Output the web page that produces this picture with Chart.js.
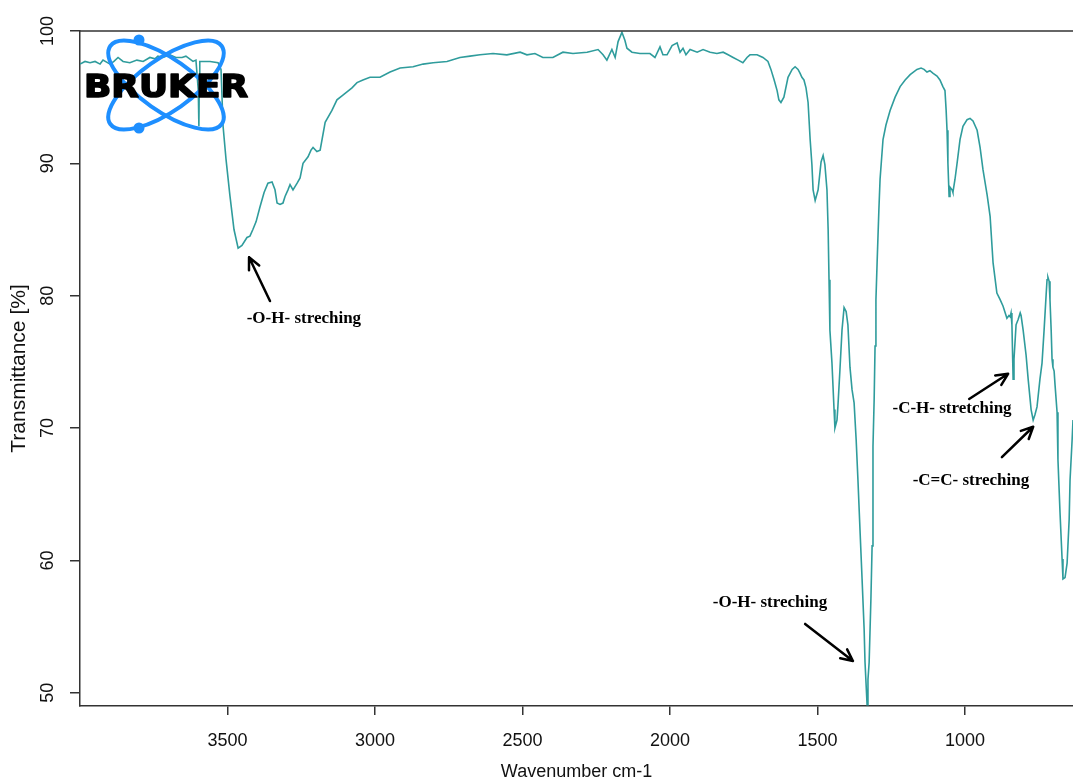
<!DOCTYPE html>
<html lang="en">
<head>
<meta charset="UTF-8">
<title>IR spectrum</title>
<script src="https://cdn.jsdelivr.net/npm/chart.js"></script>
<style>
  html, body { margin: 0; padding: 0; background: #fff; }
  #wrap { width: 1073px; height: 783px; }
</style>
</head>
<body>
<div id="wrap"><canvas id="spectrum"></canvas></div>
<script>
// spectrum (cm-1 / %T)
const wavenumbers = [
  4000, 3983, 3966, 3949, 3932, 3922, 3898, 3885, 3871, 3854, 3831, 3807, 3786, 3763, 3746, 3736,
  3719, 3695, 3675, 3654, 3641, 3617, 3607, 3599, 3597, 3596, 3594, 3559, 3532, 3522, 3515, 3505,
  3492, 3478, 3464, 3451, 3434, 3424, 3414, 3403, 3390, 3376, 3363, 3349, 3339, 3332, 3322, 3312,
  3305, 3295, 3288, 3278, 3264, 3254, 3244, 3227, 3217, 3210, 3197, 3186, 3169, 3146, 3129, 3112,
  3095, 3078, 3061, 3041, 3017, 2983, 2949, 2915, 2871, 2837, 2803, 2756, 2712, 2678, 2644, 2600,
  2553, 2508, 2485, 2458, 2431, 2397, 2363, 2329, 2281, 2244, 2227, 2214, 2197, 2186, 2176, 2163,
  2153, 2146, 2129, 2102, 2068, 2051, 2034, 2024, 2010, 1993, 1976, 1966, 1956, 1946, 1932, 1908,
  1888, 1864, 1841, 1820, 1803, 1786, 1769, 1753, 1739, 1729, 1705, 1685, 1668, 1658, 1647, 1637,
  1631, 1624, 1614, 1600, 1586, 1576, 1566, 1559, 1553, 1546, 1539, 1532, 1525, 1519, 1515, 1508,
  1498, 1488, 1481, 1475, 1468, 1464, 1461, 1458, 1451, 1444, 1441, 1434, 1431, 1424, 1417, 1410,
  1403, 1397, 1390, 1383, 1376, 1369, 1363, 1356, 1349, 1342, 1339, 1332, 1329, 1325, 1319, 1315,
  1312, 1308, 1305, 1302, 1298, 1292, 1288, 1278, 1268, 1254, 1237, 1220, 1203, 1186, 1163, 1149,
  1139, 1129, 1119, 1108, 1095, 1085, 1075, 1068, 1064, 1061, 1058, 1054, 1051, 1044, 1041, 1034,
  1027, 1017, 1007, 993, 983, 973, 959, 949, 939, 925, 915, 905, 892, 881, 871, 858,
  851, 847, 844, 841, 837, 834, 827, 820, 813, 810, 803, 793, 786, 776, 769, 763,
  756, 746, 739, 732, 725, 722, 719, 715, 712, 708, 705, 702, 698, 695, 688, 685,
  678, 671, 668, 661, 654, 647, 644, 637, 634
];
const transmittance = [
  97.5, 97.7, 97.6, 97.7, 97.5, 97.8, 97.5, 97.7, 98.0, 97.7, 97.6, 97.8, 97.7, 98.0, 97.9, 98.1,
  98.0, 98.2, 98.0, 98.0, 98.1, 97.7, 97.8, 95.5, 92.8, 95.2, 97.7, 97.7, 97.6, 97.1, 92.8, 90.3,
  87.6, 85.0, 83.6, 83.8, 84.4, 84.5, 85.0, 85.6, 86.7, 87.8, 88.5, 88.6, 88.0, 87.0, 86.9, 87.0,
  87.5, 88.0, 88.4, 88.0, 88.5, 88.9, 90.0, 90.5, 91.0, 91.2, 90.9, 91.0, 93.1, 94.0, 94.8, 95.1,
  95.4, 95.7, 96.1, 96.3, 96.5, 96.5, 96.9, 97.2, 97.3, 97.5, 97.6, 97.7, 98.0, 98.1, 98.2, 98.3,
  98.2, 98.4, 98.2, 98.3, 98.0, 98.0, 98.4, 98.3, 98.4, 98.6, 98.2, 97.8, 98.6, 98.0, 99.2, 99.9,
  99.3, 98.7, 98.4, 98.3, 98.3, 98.0, 98.8, 98.2, 98.2, 98.9, 99.1, 98.4, 98.7, 98.2, 98.6, 98.4,
  98.6, 98.4, 98.3, 98.4, 98.2, 98.0, 97.8, 97.6, 98.0, 98.2, 98.2, 98.0, 97.7, 97.1, 96.3, 95.5,
  94.8, 94.6, 95.0, 96.5, 97.1, 97.3, 97.1, 96.8, 96.5, 96.3, 95.7, 94.6, 91.8, 89.9, 88.0, 87.2,
  88.0, 90.1, 90.6, 89.9, 88.0, 85.0, 81.2, 77.4, 74.9, 71.4, 70.0, 70.6, 71.6, 74.4, 77.4, 79.1,
  78.8, 77.8, 74.6, 72.9, 71.9, 69.1, 66.1, 62.3, 58.6, 54.8, 52.3, 49.1, 51.0, 52.3, 57.1, 61.1,
  68.6, 72.2, 76.2, 79.7, 82.5, 86.5, 88.8, 91.8, 92.9, 94.0, 95.0, 95.8, 96.3, 96.7, 97.1, 97.2,
  97.1, 96.9, 97.0, 96.8, 96.6, 96.3, 95.8, 95.5, 94.0, 92.5, 90.0, 87.5, 88.2, 88.0, 87.8, 88.8,
  90.0, 91.8, 92.8, 93.3, 93.4, 93.2, 92.5, 91.2, 89.5, 87.6, 86.0, 82.5, 80.2, 79.7, 79.2, 78.3,
  78.5, 78.4, 78.7, 77.8, 73.7, 75.2, 77.8, 78.2, 78.7, 78.5, 77.4, 75.5, 73.7, 71.4, 70.6, 71.0,
  71.6, 73.7, 74.9, 77.4, 80.1, 81.2, 81.4, 81.1, 79.7, 77.4, 75.2, 74.6, 74.3, 73.3, 71.2, 67.6,
  63.6, 60.1, 58.6, 58.7, 59.8, 63.1, 66.1, 69.1, 70.6
];
const xTicks = [3500, 3000, 2500, 2000, 1500, 1000];
const yTicks = [50, 60, 70, 80, 90, 100];

// band labels: text centre and arrow tail/head, in cm-1 / %T
const notes = [
  { text: '-O-H- streching', w: 3241, t: 78.3, from: [3356, 79.6], to: [3427, 82.9] },
  { text: '-O-H- streching', w: 1661, t: 56.8, from: [1542, 55.2], to: [1380, 52.4] },
  { text: '-C-H- stretching', w: 1044, t: 71.5, from: [986, 72.2], to: [854, 74.1] },
  { text: '-C=C- streching', w: 980, t: 66.0, from: [875, 67.8], to: [769, 70.1] }
];

const axisColor = '#333';
const axisFont = { family: "'Liberation Sans', Arial, sans-serif", size: 18 };

const framePlugin = {
  id: 'frame',
  afterDraw(chart) {
    const { ctx, chartArea } = chart;
    ctx.save();
    ctx.strokeStyle = axisColor;
    ctx.lineWidth = 1.5;
    ctx.beginPath();
    ctx.moveTo(chartArea.left, chartArea.top);
    ctx.lineTo(chartArea.right, chartArea.top);
    ctx.stroke();
    ctx.restore();
  }
};

const logoPlugin = {
  id: 'logo',
  afterDatasetsDraw(chart) {
    const { ctx, chartArea } = chart;
    const cx = chartArea.left + 86, cy = chartArea.top + 54;
    ctx.save();
    ctx.strokeStyle = '#1e8fff';
    ctx.fillStyle = '#1e8fff';
    ctx.lineWidth = 4;
    [35, -35].forEach(a => {
      ctx.beginPath();
      ctx.ellipse(cx, cy, 68, 26, a * Math.PI / 180, 0, Math.PI * 2);
      ctx.stroke();
    });
    [[-27, -45], [-27, 43]].forEach(([dx, dy]) => {
      ctx.beginPath();
      ctx.arc(cx + dx, cy + dy, 5.5, 0, Math.PI * 2);
      ctx.fill();
    });
    ctx.fillStyle = '#000';
    ctx.strokeStyle = '#000';
    ctx.lineWidth = 1.6;
    ctx.lineJoin = 'round';
    ctx.font = "bold 32px 'DejaVu Sans', sans-serif";
    ctx.textBaseline = 'alphabetic';
    const tw = ctx.measureText('BRUKER').width;
    ctx.translate(cx - 82, cy + 12);
    ctx.scale(164 / tw, 1);
    ctx.fillText('BRUKER', 0, 0);
    ctx.strokeText('BRUKER', 0, 0);
    ctx.restore();
  }
};

const notesPlugin = {
  id: 'notes',
  afterDraw(chart) {
    const { ctx } = chart;
    const sx = chart.scales.x, sy = chart.scales.y;
    ctx.save();
    ctx.fillStyle = '#000';
    ctx.strokeStyle = '#000';
    ctx.lineWidth = 2.5;
    ctx.lineCap = 'round';
    ctx.font = "bold 17px 'Liberation Serif', 'Times New Roman', serif";
    ctx.textAlign = 'center';
    ctx.textBaseline = 'middle';
    notes.forEach(n => {
      ctx.fillText(n.text, sx.getPixelForValue(n.w), sy.getPixelForValue(n.t));
      const x1 = sx.getPixelForValue(n.from[0]), y1 = sy.getPixelForValue(n.from[1]);
      const x2 = sx.getPixelForValue(n.to[0]), y2 = sy.getPixelForValue(n.to[1]);
      const ang = Math.atan2(y2 - y1, x2 - x1);
      ctx.beginPath();
      ctx.moveTo(x1, y1);
      ctx.lineTo(x2, y2);
      [0.45, -0.45].forEach(d => {
        ctx.moveTo(x2, y2);
        ctx.lineTo(x2 - 13 * Math.cos(ang + d), y2 - 13 * Math.sin(ang + d));
      });
      ctx.stroke();
    });
    ctx.restore();
  }
};

new Chart(document.getElementById('spectrum'), {
  type: 'line',
  data: {
    datasets: [{
      data: wavenumbers.map((w, i) => ({ x: w, y: transmittance[i] })),
      borderColor: '#2f9c9c',
      borderWidth: 1.6,
      pointRadius: 0,
      tension: 0
    }]
  },
  options: {
    responsive: true,
    maintainAspectRatio: false,
    animation: false,
    layout: { padding: { top: 31, right: 0, left: 0, bottom: 0 } },
    plugins: { legend: { display: false }, tooltip: { enabled: false } },
    scales: {
      x: {
        type: 'linear',
        reverse: true,
        min: 634,
        max: 4000,
        afterBuildTicks: s => { s.ticks = xTicks.map(v => ({ value: v })); },
        afterFit: s => { s.height = 77; },
        grid: { drawOnChartArea: false, drawTicks: true, tickLength: 9, color: axisColor, lineWidth: 1.5 },
        border: { display: true, color: axisColor, width: 1.5 },
        ticks: { color: '#111', font: axisFont, padding: 15, maxRotation: 0, callback: v => String(v) },
        title: { display: true, text: 'Wavenumber cm-1', color: '#111', font: axisFont, padding: { top: 0, bottom: 0 } }
      },
      y: {
        min: 49,
        max: 100,
        afterBuildTicks: s => { s.ticks = yTicks.map(v => ({ value: v })); },
        afterFit: s => { s.width = 80; },
        grid: { drawOnChartArea: false, drawTicks: true, tickLength: 10, color: axisColor, lineWidth: 1.5 },
        border: { display: true, color: axisColor, width: 1.5 },
        ticks: { color: '#111', font: axisFont, padding: 7, minRotation: 90, maxRotation: 90, crossAlign: 'center', callback: v => String(v) },
        title: { display: true, text: 'Transmittance [%]', color: '#111', font: { family: axisFont.family, size: 21 }, padding: { top: 7, bottom: 0 } }
      }
    }
  },
  plugins: [framePlugin, logoPlugin, notesPlugin]
});
</script>
</body>
</html>
